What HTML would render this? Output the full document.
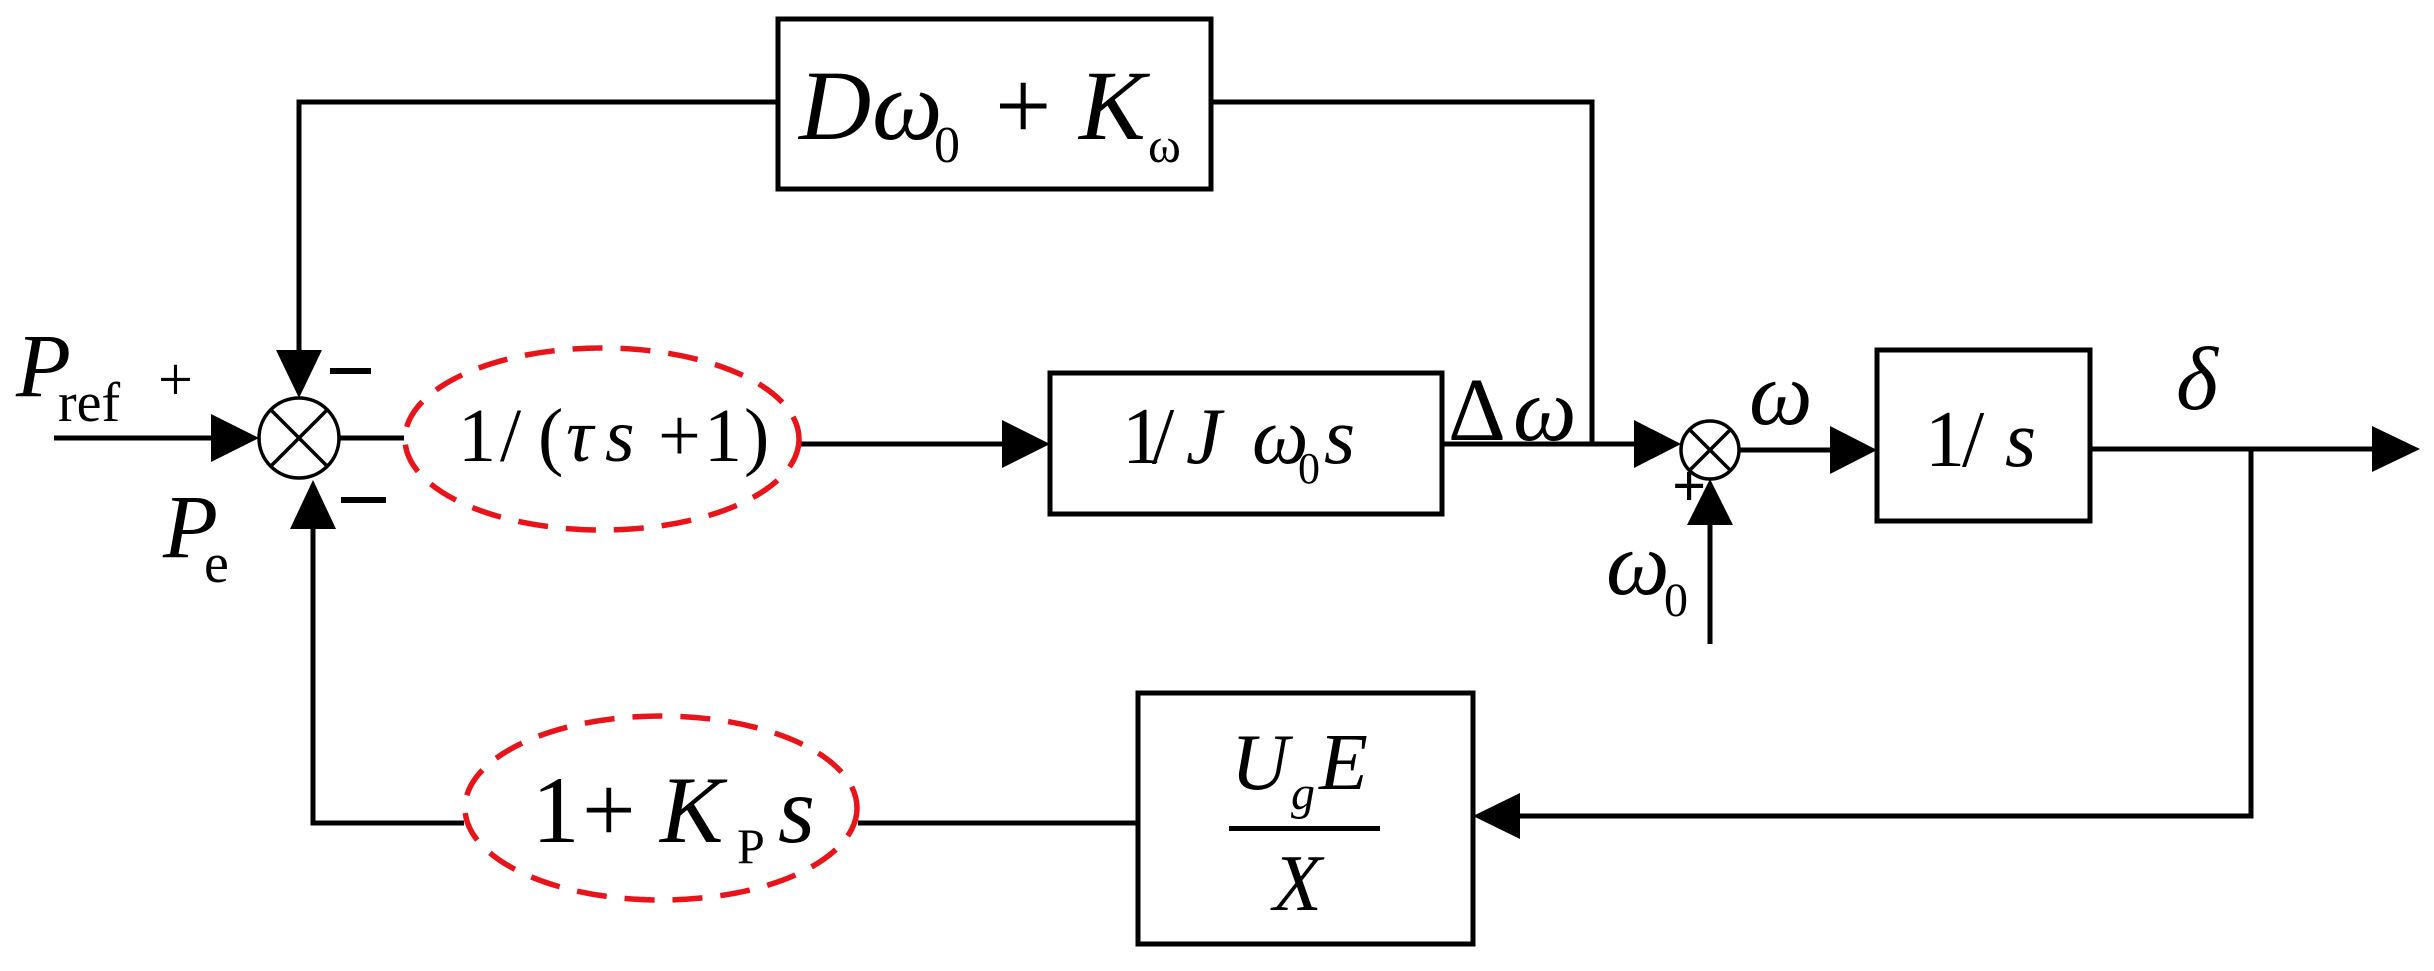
<!DOCTYPE html>
<html><head><meta charset="utf-8"><style>html,body{margin:0;padding:0;background:#fff}svg{display:block}text{font-family:"Liberation Serif",serif;fill:#000}</style></head><body>
<svg width="2434" height="971" viewBox="0 0 2434 971" xmlns="http://www.w3.org/2000/svg">
<g stroke="#000" stroke-width="5" fill="none">
<rect x="778" y="19" width="433" height="170"/>
<rect x="1050" y="373" width="392" height="141"/>
<rect x="1877" y="350" width="213" height="171"/>
<rect x="1138" y="693" width="335" height="251"/>
<polyline points="778,102 299,102 299,352"/>
<polyline points="1211,102 1592,102 1592,444"/>
<line x1="54" y1="438" x2="215" y2="438"/>
<line x1="339" y1="438" x2="404" y2="438"/>
<line x1="800" y1="444" x2="1005" y2="444"/>
<line x1="1442" y1="444" x2="1636" y2="444"/>
<line x1="1740" y1="450" x2="1832" y2="450"/>
<line x1="2090" y1="449" x2="2375" y2="449"/>
<polyline points="2251,449 2251,816 1518,816"/>
<line x1="1710" y1="644" x2="1710" y2="520"/>
<polyline points="1138,823 858,823"/>
<polyline points="464,823 313,823 313,527"/>
</g>
<g stroke="#000" stroke-width="3.5" fill="none">
<circle cx="299" cy="438" r="40"/>
<line x1="271" y1="410" x2="327" y2="466"/>
<line x1="327" y1="410" x2="271" y2="466"/>
<circle cx="1710" cy="450" r="29"/>
<line x1="1690" y1="430" x2="1730" y2="470"/>
<line x1="1730" y1="430" x2="1690" y2="470"/>
</g>
<g fill="#000">
<polygon points="259,438 211,414 211,462"/>
<polygon points="299,398 276,350 322,350"/>
<polygon points="313,480 290,529 336,529"/>
<polygon points="1050,444 1002,420 1002,468"/>
<polygon points="1681,444 1634,420 1634,468"/>
<polygon points="1877,450 1830,426 1830,474"/>
<polygon points="2420,449 2372,426 2372,472"/>
<polygon points="1473,816 1520,793 1520,839"/>
<polygon points="1710,479 1687,525 1733,525"/>
<rect x="330" y="368" width="41" height="6"/>
<rect x="341" y="497" width="45" height="6"/>
</g>
<g stroke="#e8141a" stroke-width="5.5" fill="none" stroke-dasharray="30,18">
<ellipse cx="602" cy="439" rx="197" ry="91"/>
<ellipse cx="661" cy="808" rx="196" ry="92"/>
</g>
<g font-size="100">
<text x="799" y="139" font-style="italic">D</text>
<text x="872" y="139" font-style="italic">ω</text>
<text x="934" y="162" font-size="52">0</text>
<text x="995" y="139">+</text>
<text x="1079" y="139" font-style="italic">K</text>
<text x="1148" y="162" font-size="50">ω</text>
</g>
<g font-size="90">
<text x="16" y="396" font-style="italic">P</text>
<text x="58" y="421" font-size="56">ref</text>
<text x="158" y="400" font-size="62">+</text>
<text x="163" y="557" font-style="italic">P</text>
<text x="204" y="582" font-size="56">e</text>
</g>
<g font-size="76">
<text x="458" y="461">1</text>
<text x="500" y="461">/</text>
<text x="538" y="461">(</text>
<text x="566" y="461" font-style="italic">τ</text>
<text x="605" y="461" font-style="italic">s</text>
<text x="658" y="461">+</text>
<text x="704" y="461">1</text>
<text x="744" y="461">)</text>
</g>
<g font-size="80">
<text x="1122" y="463">1</text>
<text x="1152" y="463">/</text>
<text x="1186" y="463" font-style="italic">J</text>
<text x="1252" y="463" font-style="italic">ω</text>
<text x="1298" y="483" font-size="44">0</text>
<text x="1324" y="463" font-style="italic">s</text>
<text x="1925" y="466">1</text>
<text x="1962" y="466">/</text>
<text x="2005" y="466" font-style="italic">s</text>
<text x="1231" y="789" font-style="italic">U</text>
<text x="1291" y="809" font-size="48" font-style="italic">g</text>
<text x="1319" y="789" font-style="italic">E</text>
<text x="1273" y="910" font-style="italic">X</text>
</g>
<rect x="1229" y="826" width="151" height="5" fill="#000"/>
<g font-size="90">
<text x="1448" y="440">Δ</text>
<text x="1513" y="440" font-style="italic">ω</text>
<text x="1749" y="424" font-style="italic">ω</text>
<text x="2176" y="409" font-style="italic">δ</text>
<text x="1606" y="594" font-style="italic">ω</text>
<text x="1664" y="616" font-size="48">0</text>
<text x="1672" y="506" font-size="60" font-weight="bold">+</text>
</g>
<g font-size="95">
<text x="532" y="842">1</text>
<text x="582" y="842">+</text>
<text x="660" y="842" font-style="italic">K</text>
<text x="737" y="863" font-size="50">P</text>
<text x="778" y="842" font-style="italic">s</text>
</g>
</svg>
</body></html>
